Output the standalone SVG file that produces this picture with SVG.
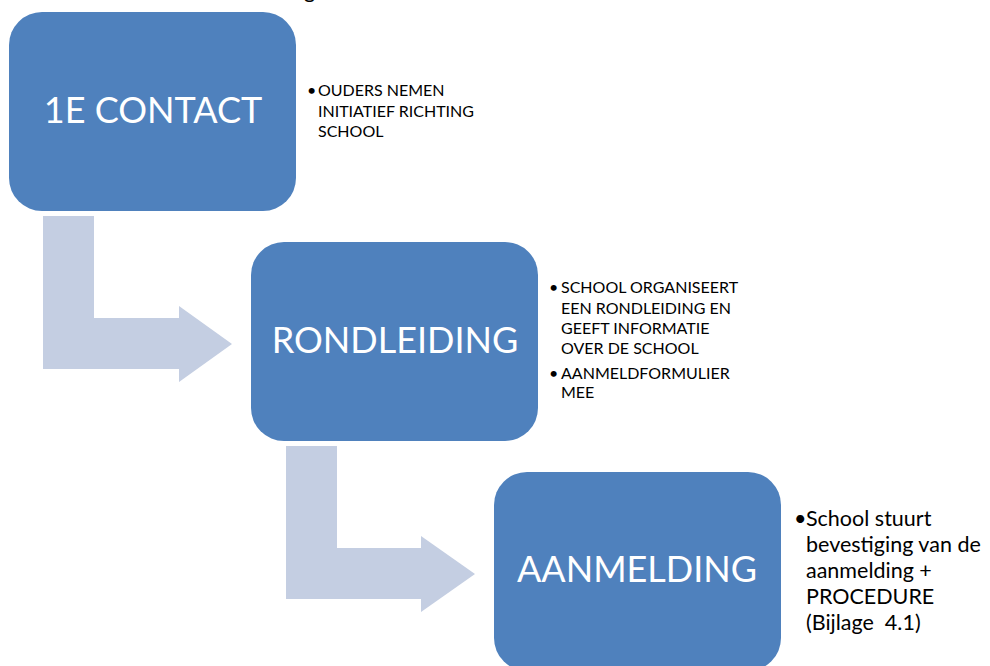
<svg xmlns="http://www.w3.org/2000/svg" width="990" height="666" viewBox="0 0 990 666">
<style>
.box{fill:#4F81BD;}
.arrow{fill:#C4CEE2;}
.label{font-family:Lato,"Open Sans","Liberation Sans",sans-serif;font-size:36px;fill:#FFFFFF;text-anchor:middle;}
.note{font-family:Lato,"Open Sans","Liberation Sans",sans-serif;font-size:16px;fill:#000000;}
.note2{font-family:Lato,"Open Sans","Liberation Sans",sans-serif;font-size:21.5px;fill:#000000;}
</style>
<rect width="990" height="666" fill="#FFFFFF"/>
<text class="note2" x="304" y="-2" font-size="24">g</text>
<g id="connectors">
<path class="arrow" d="M43,216 H94 V318 H179 V306 L232,344 L179,382 V369 H43 Z"/>
<path class="arrow" d="M286,446 H337 V548 H421 V536 L475,574 L421,612 V599 H286 Z"/>
</g>
<g id="node-contact">
<rect class="box" x="9" y="12" width="287" height="199" rx="33" ry="33"/>
<text class="label" x="153" y="123">1E CONTACT</text>
<text class="note" x="307" y="96">•</text>
<text class="note" x="318" y="96">OUDERS NEMEN</text>
<text class="note" x="318" y="117">INITIATIEF RICHTING</text>
<text class="note" x="318" y="137">SCHOOL</text>
</g>
<g id="node-rondleiding">
<rect class="box" x="251" y="242" width="287" height="199" rx="33" ry="33"/>
<text class="label" x="395" y="353">RONDLEIDING</text>
<text class="note" x="549" y="293">•</text>
<text class="note" x="561" y="293">SCHOOL ORGANISEERT</text>
<text class="note" x="561" y="314">EEN RONDLEIDING EN</text>
<text class="note" x="561" y="334">GEEFT INFORMATIE</text>
<text class="note" x="561" y="354">OVER DE SCHOOL</text>
<text class="note" x="549" y="379">•</text>
<text class="note" x="561" y="379">AANMELDFORMULIER</text>
<text class="note" x="561" y="398">MEE</text>
</g>
<g id="node-aanmelding">
<rect class="box" x="494" y="472" width="287" height="199" rx="33" ry="33"/>
<text class="label" x="637" y="582">AANMELDING</text>
<text class="note2" x="794" y="526">•</text>
<text class="note2" x="806" y="526">School stuurt</text>
<text class="note2" x="806" y="552">bevestiging van de</text>
<text class="note2" x="806" y="578">aanmelding +</text>
<text class="note2" x="806" y="604">PROCEDURE</text>
<text class="note2" x="806" y="630" xml:space="preserve">(Bijlage  4.1)</text>
</g>
</svg>
